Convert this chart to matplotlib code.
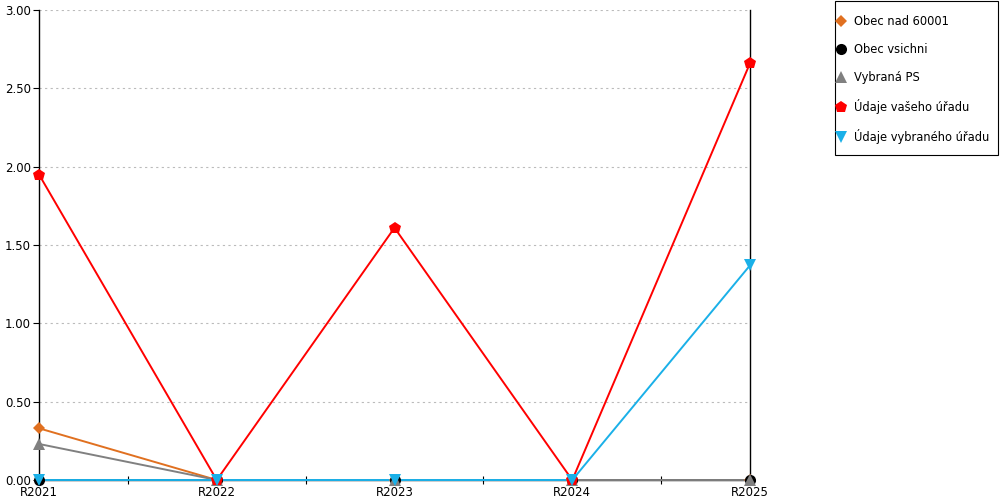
import matplotlib
matplotlib.use("Agg")
import matplotlib.pyplot as plt
from matplotlib.patches import Rectangle
from matplotlib.ticker import MultipleLocator, FormatStrFormatter

categories = ["R2021", "R2022", "R2023", "R2024", "R2025"]
obec_nad = [0.33, 0.0, 0.0, 0.0, 0.0]
obec_vsichni = [0.0, 0.0, 0.0, 0.0, 0.0]
vybrana_ps = [0.23, 0.0, 0.0, 0.0, 0.0]
vaseho = [1.95, 0.0, 1.61, 0.0, 2.66]
vybraneho = [0.0, 0.0, 0.0, 0.0, 1.37]

series = [
    ("Obec nad 60001", obec_nad, "#e07020", "D", 6.5),
    ("Obec vsichni", obec_vsichni, "#000000", "o", 8),
    ("Vybraná PS", vybrana_ps, "#808080", "^", 9),
    ("Údaje vašeho úřadu", vaseho, "#ff0000", "p", 9),
    ("Údaje vybraného úřadu", vybraneho, "#1ab0e8", "v", 9),
]

plt.rcParams['font.family'] = ['DejaVu Sans']
fig = plt.figure(figsize=(10, 5), dpi=100)
ax = fig.add_axes([0.039, 0.04, 0.711, 0.94])

x = list(range(len(categories)))
handles = []
for name, vals, color, mk, ms in series:
    ax.plot(x, vals, color=color, lw=1.4, zorder=3, clip_on=False)
    h, = ax.plot(x, vals, color=color, lw=0, marker=mk, markersize=ms,
                 markeredgewidth=0, zorder=4, clip_on=False, label=name)
    handles.append(h)

ax.set_xlim(0, 4)
ax.set_ylim(0, 3)
ax.yaxis.set_major_locator(MultipleLocator(0.5))
ax.yaxis.set_major_formatter(FormatStrFormatter("%.2f"))
ax.set_xticks(x)
ax.set_xticklabels(categories)
ax.set_xticks([0.5, 1.5, 2.5, 3.5], minor=True)
ax.tick_params(axis='x', which='major', length=0, pad=4, labelsize=8.5)
ax.tick_params(axis='x', which='minor', length=6, direction='inout', width=0.8)
ax.tick_params(axis='y', which='major', length=4, direction='out', width=0.8, labelsize=8.5, pad=2)
ax.grid(axis='y', color='#bbbbbb', linestyle=(0, (2, 3)), lw=0.8)
ax.set_axisbelow(True)
ax.spines['top'].set_visible(False)
for s in ['left', 'right', 'bottom']:
    ax.spines[s].set_linewidth(1)

# legend box
fig.patches.append(Rectangle((0.835, 0.69), 0.163, 0.308, transform=fig.transFigure,
                             fill=False, edgecolor='black', linewidth=0.8))
leg = fig.legend(handles=handles, loc='upper left', bbox_to_anchor=(0.837, 0.97),
                 frameon=False, fontsize=8.3,
                 handlelength=0.75, handletextpad=0.7, labelspacing=1.3,
                 borderpad=0, borderaxespad=0, markerscale=1.0)

fig.savefig("out.png", dpi=100)
